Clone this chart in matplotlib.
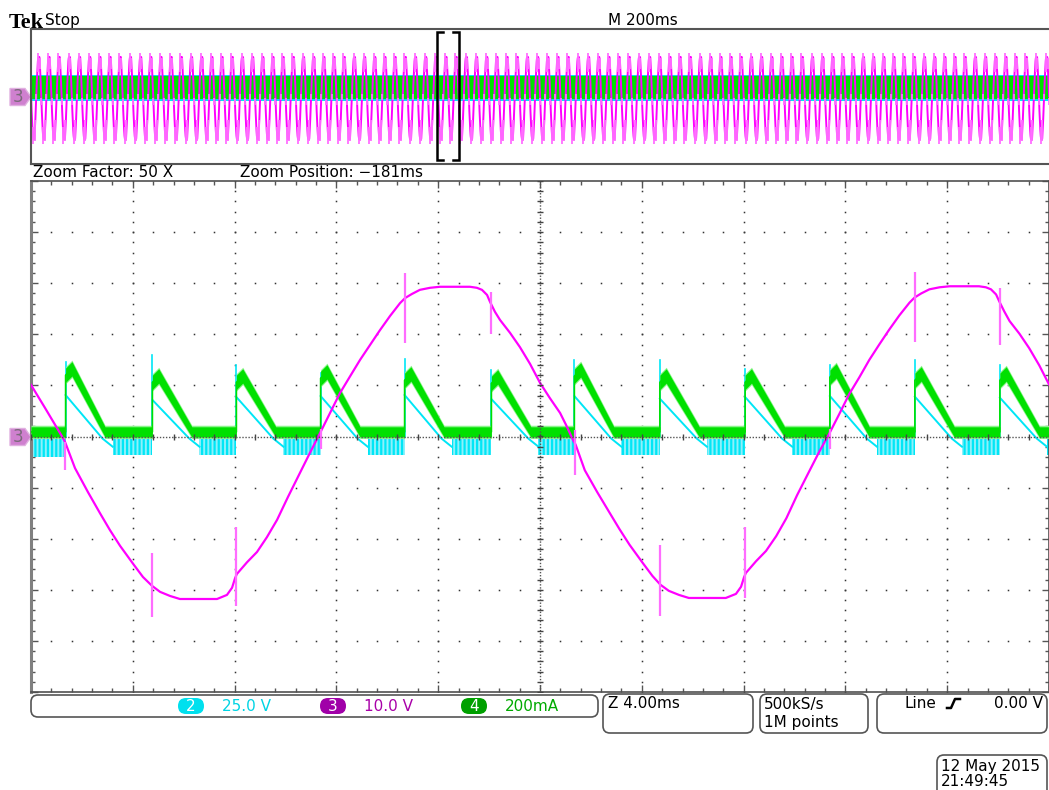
import numpy as np
import matplotlib.pyplot as plt
from matplotlib.patches import FancyBboxPatch, Polygon
from matplotlib.ticker import MultipleLocator

plt.rcParams['font.family'] = ['DejaVu Sans']
plt.rcParams['hatch.linewidth'] = 1.6

W, H = 1049, 790

# scope settings
ms_per_div = 4.0
ch2_v_div = 25.0
ch3_v_div = 10.0
ch4_ma_div = 200.0
record_ms = 2000.0
zoom_pos = -181.0
line_period = 20.0

# ch3 (magenta): time (ms), volts
ch3_t = [0.00, 0.55, 1.22, 1.34, 1.73, 2.24, 2.71, 3.10, 3.50, 4.01, 4.40, 4.75, 5.07,
         5.46, 5.85, 7.31, 7.70, 7.90, 8.02, 8.09, 8.49, 8.88, 9.27, 9.67, 10.10, 10.57,
         10.96, 11.36, 11.75, 12.14, 12.54, 12.93, 13.32, 13.71, 14.11, 14.50, 14.70,
         14.97, 15.28, 15.68, 16.07, 17.25, 17.52, 17.72, 17.92, 18.04, 18.23, 18.43,
         18.82, 19.21, 19.61,
         20.00, 20.39, 20.79, 21.02, 21.30, 21.40, 21.76, 22.25, 22.72, 23.12, 23.52,
         24.03, 24.42, 24.73, 25.06, 25.46, 25.85, 27.30, 27.70, 27.90, 28.02, 28.09,
         28.49, 28.88, 29.28, 29.68, 30.10, 30.58, 30.97, 31.37, 31.76, 32.15, 32.55,
         32.94, 33.33, 33.72, 34.12, 34.52, 34.72, 34.98, 35.30, 35.70, 36.10, 37.25,
         37.52, 37.72, 37.92, 38.05, 38.24, 38.45, 38.84, 39.22, 39.62, 40.00]
ch3_v = [10.1, 5.6, 0.0, -1.1, -6.2, -10.9, -15.0, -18.3, -21.4, -24.9, -27.5, -29.2, -30.4,
         -31.2, -31.8, -31.8, -31.0, -29.6, -27.7, -26.9, -24.6, -22.6, -19.7, -16.3, -11.8, -7.1,
         -3.2, 0.7, 4.6, 8.5, 11.8, 15.0, 17.9, 20.8, 23.6, 26.1, 27.1,
         27.9, 28.7, 29.1, 29.3, 29.3, 29.1, 28.7, 27.7, 26.3, 24.4, 22.8,
         20.3, 17.5, 14.2,
         10.5, 7.5, 4.6, 2.3, -0.7, -1.6, -6.6, -10.9, -14.8, -18.1, -21.2,
         -24.7, -27.3, -29.0, -30.2, -31.0, -31.6, -31.6, -30.8, -29.4, -27.5, -26.7,
         -24.4, -22.4, -19.5, -16.0, -11.5, -6.8, -3.0, 0.6, 4.4, 8.3, 11.6,
         15.0, 18.0, 20.9, 23.7, 26.2, 27.2, 28.0, 28.8, 29.2, 29.4, 29.4,
         29.2, 28.8, 27.8, 26.4, 24.5, 22.6, 20.1, 17.3, 13.9, 10.2]

# ch3 switching spikes: time, top, bottom (V)
spk_t = [1.34, 4.75, 8.06, 11.38, 14.70, 18.07, 21.37, 24.71, 28.05, 31.39, 34.73, 38.07]
spk_top = [-1.0, -22.8, -17.7, 1.5, 32.0, 28.3, 1.3, -21.2, -17.7, 1.5, 32.2, 29.1]
spk_bot = [-6.6, -35.3, -33.2, -2.5, 18.3, 20.1, -7.5, -35.2, -31.6, -2.5, 18.5, 17.9]

# current pulses (ch4, green) and ch2 (cyan) response
pulse_t = [1.36, 4.77, 8.07, 11.38, 14.68, 18.09, 21.35, 24.71, 28.06, 31.39, 34.73, 38.07]
ch4_peak = [265, 237, 237, 253, 245, 233, 261, 237, 237, 257, 245, 245]   # mA
ch4_base = 18.0
ch4_noise = 20.0
ch4_noise_pulse = 28.0
ch2_spike = [36.5, 40.0, 35.0, 31.0, 38.0, 32.5, 37.5, 37.5, 33.0, 35.0, 37.5, 35.0]   # V
ch2_start = [20.3, 17.9, 19.3, 19.8, 20.3, 18.3, 19.8, 18.5, 19.3, 19.8, 19.5, 19.0]
ch2_ripple_top = -0.3
ch2_ripple_low = [-10.0, -9.0, -9.0, -9.0, -9.0, -9.0, -9.0, -9.0, -9.0, -9.0, -9.0, -9.0, -9.0]

MAG = '#ff00ff'
CYA = '#00e6f6'
GRN = '#00e000'

fig = plt.figure(figsize=(W / 100, H / 100), dpi=100)
ov = fig.add_axes([0, 0, 1, 1])
ov.set_xlim(0, W)
ov.set_ylim(H, 0)
ov.axis('off')


def px_axes(x0, y0, x1, y1):
    return fig.add_axes([x0 / W, 1 - y1 / H, (x1 - x0) / W, (y1 - y0) / H])


# ---------------- zoom window ----------------
ax = px_axes(31, 181, 1049, 692)
ax.set_xlim(0, 10 * ms_per_div)
ax.set_ylim(-5, 5)
for s in ax.spines.values():
    s.set_color('#505050')
    s.set_linewidth(1.2)
ax.spines['left'].set_linewidth(2.2)
ax.spines['left'].set_color('#808080')
ax.xaxis.set_major_locator(MultipleLocator(ms_per_div))
ax.xaxis.set_minor_locator(MultipleLocator(ms_per_div / 5))
ax.yaxis.set_major_locator(MultipleLocator(1))
ax.yaxis.set_minor_locator(MultipleLocator(0.2))
ax.tick_params(which='both', direction='in', top=True, right=True,
               labelbottom=False, labelleft=False, color='#555')
ax.tick_params(which='major', length=5, width=1)
ax.tick_params(which='minor', length=3, width=1)

# graticule dots
xs_minor = np.arange(0, 40.01, ms_per_div / 5)
ys_minor = np.arange(-5, 5.01, 0.2)
gx, gy = np.meshgrid(xs_minor, [-4, -3, -2, -1, 1, 2, 3, 4])
ax.plot(gx.ravel(), gy.ravel(), ls='none', marker='s', ms=1.1, mew=0, color='#333', zorder=1)
gx, gy = np.meshgrid([4, 8, 12, 16, 24, 28, 32, 36], ys_minor)
ax.plot(gx.ravel(), gy.ravel(), ls='none', marker='s', ms=1.1, mew=0, color='#333', zorder=1)

# ch2 cyan: ripple bands between pulses
seg_a = [0.0] + [t + 1.85 for t in pulse_t]
seg_b = pulse_t + [40.0]
for a, b, lo in zip(seg_a, seg_b, ch2_ripple_low):
    ax.fill_between([a, b], ch2_ripple_top / ch2_v_div, lo / ch2_v_div,
                    facecolor='#8ef0fa', edgecolor=CYA, hatch='||||', linewidth=0, zorder=2)
for t, sp, st in zip(pulse_t, ch2_spike, ch2_start):
    ax.plot([t, t], [ch2_ripple_top / ch2_v_div, sp / ch2_v_div], color=CYA, lw=1.2, zorder=2)
    ax.plot([t, t + 1.45, t + 1.85], np.array([st, -1.0, -5.0]) / ch2_v_div,
            color=CYA, lw=1.4, zorder=2)

# ch4 green
g_t, g_c, g_w = [0.0], [ch4_base], [ch4_noise]
for t, pk in zip(pulse_t, ch4_peak):
    g_t += [t, t, t + 0.25, t + 1.55]
    g_c += [ch4_base, pk - 25, pk, ch4_base]
    g_w += [ch4_noise, ch4_noise_pulse, ch4_noise_pulse, ch4_noise]
g_t.append(40.0)
g_c.append(ch4_base)
g_w.append(ch4_noise)
g_t = np.array(g_t)
g_c = np.array(g_c) / ch4_ma_div
g_w = np.array(g_w) / ch4_ma_div
ax.fill_between(g_t, g_c - g_w - 0.03, g_c + g_w + 0.03, color='#8cf58c', lw=0, zorder=3)
ax.fill_between(g_t, g_c - g_w, g_c + g_w, color=GRN, lw=0, zorder=3)
ax.plot(g_t, g_c, color=GRN, lw=1.2, zorder=3)

# ch3 magenta
ax.plot(ch3_t, np.array(ch3_v) / ch3_v_div, color=MAG, lw=1.6, zorder=4)
ax.vlines(spk_t, np.array(spk_bot) / ch3_v_div, np.array(spk_top) / ch3_v_div,
          color='#ff6cff', lw=1.6, zorder=4)

# centre cross
ax.axhline(0, color='#555', lw=1, ls=(0, (1, 1.2)), zorder=5)
ax.axvline(20, color='#555', lw=1, ls=(0, (1, 1.2)), zorder=5)
ax.plot(xs_minor, np.zeros_like(xs_minor), ls='none', marker='|', ms=5, mew=1, color='#444', zorder=5)
ax.plot(np.full_like(ys_minor, 20), ys_minor, ls='none', marker='_', ms=5, mew=1, color='#444', zorder=5)

# ---------------- record overview ----------------
tp = px_axes(31, 29, 1049, 164)
tp.set_xlim(0, record_ms)
tp.set_ylim(-5, 5)
tp.set_xticks([])
tp.set_yticks([])
for s in tp.spines.values():
    s.set_color('#555')
    s.set_linewidth(1.5)
tp.spines['right'].set_visible(False)

zoom_t0 = record_ms / 2 + zoom_pos - 5 * ms_per_div
tp.fill_between([0, record_ms], -8.5 / ch2_v_div, 40 / ch2_v_div, color=CYA, lw=0)
tp.fill_between([0, record_ms], -38 / ch4_ma_div, 300 / ch4_ma_div, color=GRN, lw=0)
cyc_t = np.array([t for t in ch3_t if t < line_period])
cyc_v = np.array(ch3_v[:len(cyc_t)])
ks = np.arange(-41, 61)
ov_t = (zoom_t0 + cyc_t[None, :] + line_period * ks[:, None]).ravel()
ov_v = np.tile(cyc_v, len(ks))
tp.plot(ov_t, ov_v / ch3_v_div, color=MAG, lw=1.4)
cs_t = np.array(spk_t[:6])
ov_st = (zoom_t0 + cs_t[None, :] + line_period * ks[:, None]).ravel()
tp.vlines(ov_st, np.tile(np.array(spk_bot[:6]), len(ks)) / ch3_v_div,
          np.tile(np.array(spk_top[:6]), len(ks)) / ch3_v_div, color='#ff70ff', lw=1.3)

# zoom bracket
b0, b1 = zoom_t0 - 1, zoom_t0 + 10 * ms_per_div + 2
tp.plot([b0 + 11, b0, b0, b0 + 11], [4.75, 4.75, -4.7, -4.7], color='black', lw=1.8,
        solid_joinstyle='miter')
tp.plot([b1 - 11, b1, b1, b1 - 11], [4.75, 4.75, -4.7, -4.7], color='black', lw=1.8,
        solid_joinstyle='miter')

# ---------------- screen furniture ----------------
ov.add_patch(Polygon([[535, 29], [547, 29], [541, 35]], closed=True, color='#f59a00'))

for yc in (97, 437):
    ov.add_patch(Polygon([[10, yc - 8.5], [25, yc - 8.5], [31, yc], [25, yc + 8.5], [10, yc + 8.5]],
                         closed=True, facecolor='#cf80cf', edgecolor='#e0b0e0', lw=1))
    ov.text(18, yc + 0.5, '3', ha='center', va='center', fontsize=12, color='#7a6a7a')

ov.text(9, 27.5, 'Tek', fontsize=16, fontweight='bold', family=['Liberation Serif'],
        va='baseline', ha='left')
ov.text(45, 25, 'Stop', fontsize=11, va='baseline')
ov.text(608, 25, 'M 200ms', fontsize=11, va='baseline')
ov.text(33, 177, 'Zoom Factor: 50 X', fontsize=11, va='baseline')
ov.text(240, 177, 'Zoom Position: \u2212181ms', fontsize=11, va='baseline')


def rbox(x0, y0, x1, y1, r=7):
    ov.add_patch(FancyBboxPatch((x0, y0), x1 - x0, y1 - y0,
                                boxstyle='round,pad=0,rounding_size=%d' % r,
                                facecolor='white', edgecolor='#555', lw=1.2))


rbox(31, 695, 598, 717)
rbox(603, 694, 753, 733)
rbox(760, 694, 868, 733)
rbox(877, 694, 1047, 733)
rbox(937, 755, 1047, 798)

chan = [('2', '25.0 V', '#00e0ee', '#00d4e4', 191),
        ('3', '10.0 V', '#a000a8', '#a800a8', 333),
        ('4', '200mA', '#00a000', '#00aa00', 474)]
for num, lab, fc, tc, xc in chan:
    ov.add_patch(FancyBboxPatch((xc - 13, 698), 26, 16, boxstyle='round,pad=0,rounding_size=8',
                                facecolor=fc, edgecolor='none'))
    ov.text(xc, 706.5, num, ha='center', va='center', fontsize=11, color='white')
    ov.text(xc + 31, 706.5, lab, ha='left', va='center', fontsize=11, color=tc)

ov.text(608, 704, 'Z 4.00ms', fontsize=11, va='center')
ov.text(764, 704, '500kS/s', fontsize=11, va='center')
ov.text(764, 722, '1M points', fontsize=11, va='center')
ov.text(905, 704, 'Line', fontsize=11, va='center')
ov.plot([947, 951, 955, 960], [708, 708, 699, 699], color='black', lw=1.8)
ov.text(1043, 704, '0.00 V', fontsize=11, va='center', ha='right')
ov.text(941, 766, '12 May 2015', fontsize=11, va='center')
ov.text(941, 782, '21:49:45', fontsize=11, va='center')

fig.savefig('out.png', dpi=100)
